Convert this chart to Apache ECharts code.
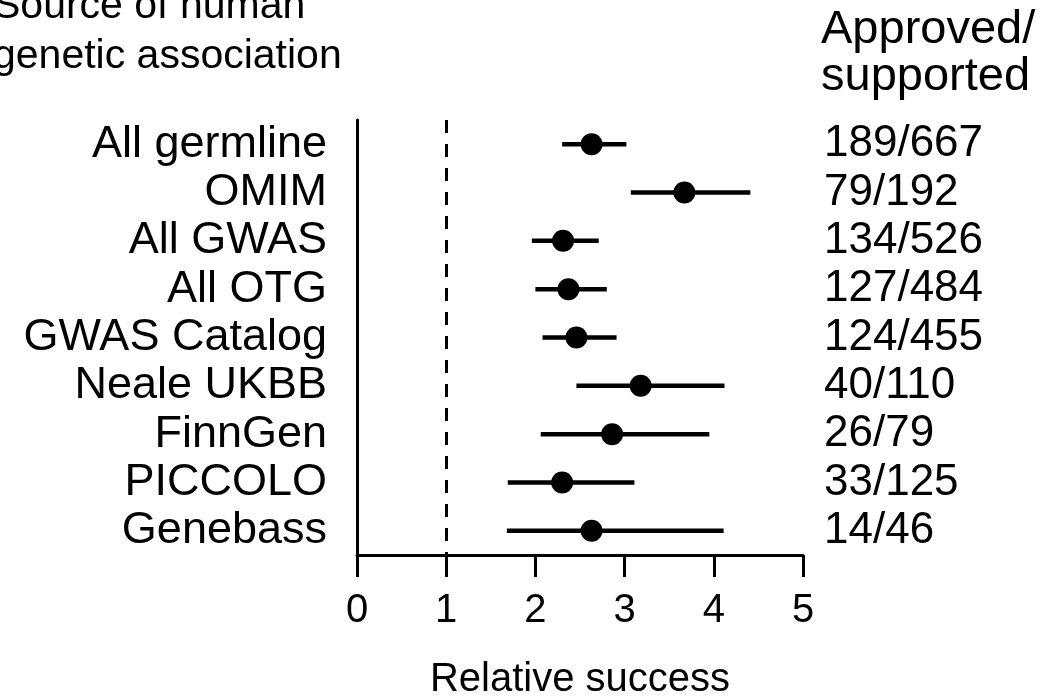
<!DOCTYPE html>
<html>
<head>
<meta charset="utf-8">
<script src="https://cdn.jsdelivr.net/npm/echarts@6/dist/echarts.min.js"></script>
<style>
  html, body { margin: 0; padding: 0; background: #fff; overflow: hidden; }
  #chart { width: 1060px; height: 696px; }
</style>
</head>
<body>
<div id="chart"></div>
<script>
// source rows, top to bottom
const sources = ['All germline', 'OMIM', 'All GWAS', 'All OTG', 'GWAS Catalog', 'Neale UKBB', 'FinnGen', 'PICCOLO', 'Genebass'];
const relSuccess = [2.63, 3.67, 2.31, 2.37, 2.46, 3.18, 2.86, 2.30, 2.63];
const ciLow = [2.30, 3.07, 1.96, 2.00, 2.08, 2.46, 2.06, 1.69, 1.68];
const ciHigh = [3.02, 4.41, 2.71, 2.80, 2.91, 4.12, 3.95, 3.11, 4.11];
const approved = ['189/667', '79/192', '134/526', '127/484', '124/455', '40/110', '26/79', '33/125', '14/46'];
const xTicks = [0, 1, 2, 3, 4, 5];

const FONT = 'Liberation Sans';
const chart = echarts.init(document.getElementById('chart'));

const errData = sources.map((s, i) => [ciLow[i], ciHigh[i], i]);
const pointData = sources.map((s, i) => [relSuccess[i], i]);

chart.setOption({
    animation: false,
    backgroundColor: '#fff',
    textStyle: { fontFamily: FONT, color: '#000' },
    graphic: [
        {
            type: 'text', x: -7, y: -18,
            style: { text: 'Source of human\ngenetic association', font: '41px "Liberation Sans"', fill: '#000', lineHeight: 50 }
        },
        {
            type: 'text', x: 821, y: 7,
            style: { text: 'Approved/\nsupported', font: '47px "Liberation Sans"', fill: '#000', lineHeight: 47 }
        }
    ],
    grid: { left: 357, width: 446, top: 120, height: 435, outerBoundsMode: 'none' },
    xAxis: {
        type: 'value', min: xTicks[0], max: xTicks[xTicks.length - 1], interval: 1,
        splitLine: { show: false },
        axisLine: { show: true, lineStyle: { color: '#000', width: 3 } },
        axisTick: { show: true, length: 22, lineStyle: { color: '#000', width: 3 } },
        axisLabel: { fontSize: 40, color: '#000', fontFamily: FONT, margin: 36 },
        name: 'Relative success', nameLocation: 'middle', nameGap: 105,
        nameTextStyle: { fontSize: 40, color: '#000', fontFamily: FONT }
    },
    yAxis: [
        {
            type: 'category', data: sources, inverse: true,
            axisLine: { show: true, lineStyle: { color: '#000', width: 3 } },
            axisTick: { show: false },
            axisLabel: { interval: 0, fontSize: 45, color: '#000', fontFamily: FONT, margin: 30, padding: [7, 0, 0, 0] }
        },
        {
            type: 'category', data: approved, inverse: true, position: 'right',
            axisLine: { show: false }, axisTick: { show: false },
            axisLabel: { interval: 0, fontSize: 44, color: '#000', fontFamily: FONT, margin: 21 }
        }
    ],
    series: [
        {
            type: 'custom',
            data: errData,
            renderItem: function (params, api) {
                const a = api.coord([api.value(0), api.value(2)]);
                const b = api.coord([api.value(1), api.value(2)]);
                return {
                    type: 'line',
                    shape: { x1: a[0], y1: a[1], x2: b[0], y2: b[1] },
                    style: { stroke: '#000', lineWidth: 4.5 }
                };
            },
            markLine: {
                silent: true, symbol: 'none', label: { show: false },
                lineStyle: { color: '#000', width: 3, type: [13, 11] },
                data: [{ xAxis: 1 }]
            }
        },
        {
            type: 'scatter',
            data: pointData,
            symbolSize: 22,
            itemStyle: { color: '#000', opacity: 1 },
            z: 5
        }
    ]
});
</script>
</body>
</html>
